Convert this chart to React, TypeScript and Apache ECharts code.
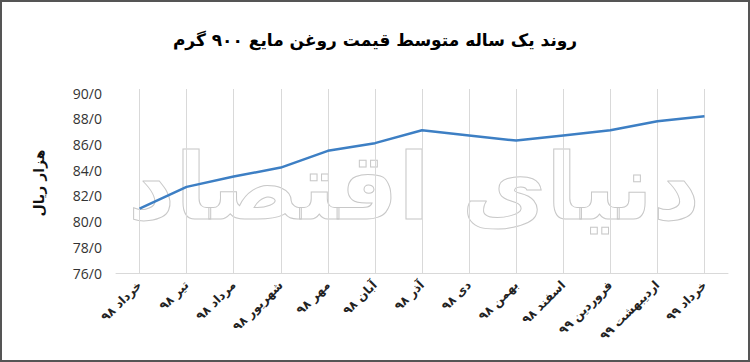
import React, { useEffect, useRef } from "react";
import * as echarts from "echarts";

const categories = [
  "خرداد ۹۸",
  "تیر ۹۸",
  "مرداد ۹۸",
  "شهریور ۹۸",
  "مهر ۹۸",
  "آبان ۹۸",
  "آذر ۹۸",
  "دی ۹۸",
  "بهمن ۹۸",
  "اسفند ۹۸",
  "فروردین ۹۹",
  "اردیبهشت ۹۹",
  "خرداد ۹۹",
];
const prices = [81.0, 82.7, 83.5, 84.2, 85.5, 86.1, 87.1, 86.7, 86.3, 86.7, 87.1, 87.8, 88.2];
const titleText = "روند یک ساله متوسط قیمت روغن مایع ۹۰۰ گرم";
const yAxisName = "هزار ریال";
const watermark = "دنیای اقتصاد";
const yMin = 76;
const yMax = 90;
const yStep = 2;

export default function App() {
  const ref = useRef<HTMLDivElement>(null);
  useEffect(() => {
    document.body.style.margin = "0";
    const chart = echarts.init(ref.current!, null, { renderer: "svg" });
    const gridTop = 91;
    const gridBottom = 87;
    const gridH = 362 - gridTop - gridBottom;
    chart.setOption({
      animation: false,
      backgroundColor: "#ffffff",
      title: {
        text: titleText,
        left: "center",
        top: 24,
        textStyle: {
          fontFamily: "DejaVu Sans",
          fontWeight: "bold",
          fontSize: 17,
          color: "#000",
        },
      },
      graphic: [
        {
          type: "text",
          x: 412,
          y: 185,
          z: 0,
          silent: true,
          style: {
            text: watermark,
            font: "bold 92px 'DejaVu Sans'",
            align: "center",
            verticalAlign: "middle",
            fill: "rgba(255,255,255,0)",
            stroke: "#c8c8c8",
            lineWidth: 1,
          },
        },
      ],
      grid: { left: 114, right: 20, top: gridTop, bottom: gridBottom },
      xAxis: {
        type: "category",
        data: categories,
        boundaryGap: true,
        axisLine: { show: true, lineStyle: { color: "#d9d9d9", width: 1 } },
        axisTick: {
          show: true,
          alignWithLabel: true,
          inside: true,
          length: gridH,
          lineStyle: { color: "#d9d9d9", width: 1 },
        },
        splitLine: { show: false },
        axisLabel: {
          rotate: 45,
          interval: 0,
          margin: 10,
          fontFamily: "DejaVu Sans",
          fontWeight: "bold",
          fontSize: 12,
          color: "#222",
        },
      },
      yAxis: {
        type: "value",
        min: yMin,
        max: yMax,
        interval: yStep,
        name: yAxisName,
        nameLocation: "middle",
        nameRotate: 90,
        nameGap: 70,
        nameTextStyle: {
          fontFamily: "DejaVu Sans",
          fontWeight: "bold",
          fontSize: 14,
          color: "#111",
        },
        axisLine: { show: false },
        axisTick: { show: false },
        splitLine: { show: false },
        axisLabel: {
          margin: 14,
          fontFamily: "Open Sans",
          fontSize: 14,
          color: "#333",
          formatter: (v: number) => v.toFixed(1).replace(".", "/"),
        },
      },
      series: [
        {
          type: "line",
          data: prices,
          symbol: "none",
          z: 3,
          lineStyle: { color: "#3d7fc4", width: 2.5 },
        },
      ],
    });
    return () => chart.dispose();
  }, []);
  return (
    <div
      style={{
        position: "absolute",
        left: 0,
        top: 0,
        width: 750,
        height: 362,
        boxSizing: "border-box",
        border: "2px solid #555",
      }}
    >
      <div ref={ref} style={{ width: 746, height: 358 }} />
    </div>
  );
}
